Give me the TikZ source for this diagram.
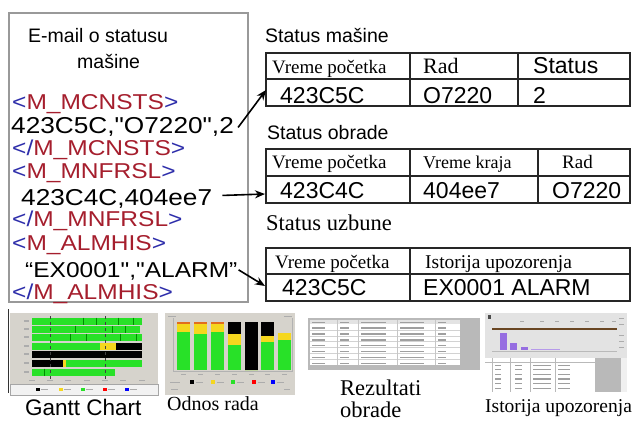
\documentclass[tikz,border=0pt]{standalone}
\usepackage{fontspec}
\setmainfont{Liberation Sans}
\newfontfamily\tmsfont{Liberation Serif}
\newfontfamily\widesans[FakeStretch=1.14]{Liberation Sans}
\usetikzlibrary{arrows.meta, calc}

\definecolor{tagblue}{RGB}{45,45,170}
\definecolor{tagred}{RGB}{165,30,45}
\definecolor{bargreen}{RGB}{40,225,40}
\definecolor{baryellow}{RGB}{245,215,30}
\definecolor{barorange}{RGB}{225,110,30}
\definecolor{barpurple}{RGB}{150,110,225}
\definecolor{panelgray}{RGB}{214,211,204}

\newcommand{\tg}[1]{\textcolor{tagblue}{<}\textcolor{tagred}{#1}\textcolor{tagblue}{>}}
\newcommand{\etg}[1]{\textcolor{tagblue}{</}\textcolor{tagred}{#1}\textcolor{tagblue}{>}}
\newcommand{\dq}{\symbol{34}}

\tikzset{
  txt/.style={anchor=base west, inner sep=0pt},
  tagline/.style={txt, font=\widesans\fontsize{21.5}{23}\selectfont},
  valline/.style={txt, font=\widesans\fontsize{23}{25}\selectfont},
  ttl/.style={txt, font=\fontsize{19.5}{21}\selectfont},
  hdr/.style={txt, font=\tmsfont\fontsize{19}{21}\selectfont},
  val/.style={txt, font=\fontsize{23}{25}\selectfont},
  tbl/.style={draw=black!85, line width=1.2pt},
  arr/.style={-{Stealth[length=10pt,width=8pt]}, line width=1.6pt},
  tiny/.style={fill=gray!65},
}

\begin{document}
\begin{tikzpicture}[x=1pt, y=-1pt]
    \useasboundingbox (0,0) rectangle (640,421);

    % e-mail box
    \draw[gray!80, line width=1.5pt] (9,13) rectangle (248,302);
    \node[ttl] (mail1) at (28,42) {E-mail o statusu};
    \node[ttl] (mail2) at (77,68) {mašine};
    \node[tagline] (t1) at (12,109) {\tg{M\_MCNSTS}};
    \node[valline] (v1) at (11,133) {423C5C,\dq O7220\dq,2};
    \node[tagline] (t2) at (12,155) {\etg{M\_MCNSTS}};
    \node[tagline] (t3) at (12,178) {\tg{M\_MNFRSL}};
    \node[valline] (v2) at (21,205) {423C4C,404ee7};
    \node[tagline] (t4) at (12,226) {\etg{M\_MNFRSL}};
    \node[tagline] (t5) at (12,250) {\tg{M\_ALMHIS}};
    \node[valline, font=\widesans\fontsize{21.5}{23}\selectfont] (v3) at (25,277) {“EX0001\dq,\dq ALARM”};
    \node[tagline] (t6) at (12,299) {\etg{M\_ALMHIS}};

    % status masine
    \node[ttl] (smT) at (265,42) {Status mašine};
    \draw[tbl] (266,53) rectangle (630,106);
    \draw[tbl] (266,79) -- (630,79);
    \draw[tbl] (410,53) -- (410,106);
    \draw[tbl] (518,53) -- (518,106);
    \node[hdr] (sm11) at (272,73) {Vreme početka};
    \node[hdr, font=\tmsfont\fontsize{22}{24}\selectfont] (sm12) at (423,73) {Rad};
    \node[val] (sm13) at (533,73) {Status};
    \node[val] (sm21) at (280,103) {423C5C};
    \node[val] (sm22) at (423,103) {O7220};
    \node[val] (sm23) at (533,103) {2};
    \coordinate (smIn) at (266,90);

    % status obrade
    \node[ttl] (soT) at (267,139) {Status obrade};
    \draw[tbl] (266,149) rectangle (630,203);
    \draw[tbl] (266,176) -- (630,176);
    \draw[tbl] (410,149) -- (410,203);
    \draw[tbl] (538,149) -- (538,203);
    \node[hdr] (so11) at (272,168) {Vreme početka};
    \node[hdr, font=\tmsfont\fontsize{18}{20}\selectfont] (so12) at (423,168) {Vreme kraja};
    \node[hdr] (so13) at (562,168) {Rad};
    \node[val] (so21) at (280,198) {423C4C};
    \node[val] (so22) at (423,198) {404ee7};
    \node[val] (so23) at (552,198) {O7220};
    \coordinate (soIn) at (265,194);

    % status uzbune
    \node[txt, font=\tmsfont\fontsize{22.5}{24}\selectfont] (suT) at (266,230) {Status uzbune};
    \draw[tbl] (266,248) rectangle (630,301);
    \draw[tbl] (266,274) -- (630,274);
    \draw[tbl] (410,248) -- (410,301);
    \node[hdr] (su11) at (275,268) {Vreme početka};
    \node[hdr, font=\tmsfont\fontsize{19.5}{21}\selectfont] (su12) at (425,268) {Istorija upozorenja};
    \node[val] (su21) at (282,295) {423C5C};
    \node[val] (su22) at (423,295) {EX0001 ALARM};
    \coordinate (suIn) at (265,286);

    % arrows
    \draw[arr] ($(v1.east)+(4,1)$) -- (smIn);
    \draw[arr] ($(v2.east)+(10,-3)$) -- (soIn);
    \draw[arr] ($(v3.east)+(1,-1)$) -- (suIn);

    % gantt chart
    \draw[black!80, line width=0.8pt] (8,309) -- (8,393);
    \fill[panelgray] (10,313) rectangle (158,384);
    \draw[gray!70, fill=gray!10] (10,384) rectangle (158,395);
    \fill[bargreen] (32,317.5) rectangle (142,324.5);
    \fill[bargreen] (32,325.5) rectangle (140,332.5);
    \fill[bargreen] (32,333.5) rectangle (142,340.5);
    \fill[bargreen] (32,342.5) rectangle (100,349.5);
    \fill[baryellow] (100,342.5) rectangle (116,349.5);
    \fill[black] (116,342.5) rectangle (142,349.5);
    \fill[black] (32,350.5) rectangle (142,357.5);
    \fill[black] (32,359.5) rectangle (63,366.5);
    \fill[baryellow] (63,359.5) rectangle (66,366.5);
    \fill[bargreen] (66,359.5) rectangle (142,366.5);
    \fill[bargreen] (32,368.5) rectangle (115,375.5);
    \foreach \x/\y in {83/321, 96/321, 118/321, 133/321, 75/329, 112/329, 125/329, 70/337, 86/337, 120/337, 136/337, 44/372}
        \draw[green!55!black, line width=0.4pt] (\x,\y-3.5) -- (\x,\y+3.5);
    \draw[black!75, dashed, line width=0.7pt] (50,316) -- (50,380);
    \draw[black!75, dashed, line width=0.7pt] (105,316) -- (105,380);
    \foreach \y in {321,329,337,346,354,363,372}
        \fill[tiny] (24,\y-0.8) rectangle (29,\y+0.8);
    \foreach \x in {32,50,68,87,105,123,142}
        \fill[tiny] (\x-3,379.5) rectangle (\x+3,381);
    \foreach \x/\c in {38/black, 61/baryellow, 83/bargreen, 105/red, 127/blue} {
        \fill[\c] (\x-1.6,387.8) rectangle (\x+1.6,391.2);
        \fill[tiny] (\x+3,389) rectangle (\x+10,390.2);
    }

    % odnos rada
    \fill[panelgray] (165,313) rectangle (295,395);
    \draw[gray!60, line width=0.4pt] (173,318) -- (173,371) -- (292,371) -- (292,318);
    \foreach \c in {183,200,217}
        \fill[barorange] (\c-6.5,322) rectangle (\c+6.5,324);
    \foreach \c/\k/\w/\g in {183/324/324/332, 200/324/324/334, 217/324/324/332,
                             234/322/334/345, 251/322/370/370, 267/322/336/342, 284/333/333/340} {
        \fill[black] (\c-6.5,\k) rectangle (\c+6.5,\w);
        \fill[baryellow] (\c-6.5,\w) rectangle (\c+6.5,\g);
        \fill[bargreen] (\c-6.5,\g) rectangle (\c+6.5,370);
        \fill[tiny] (\c-2.5,373.5) rectangle (\c+2.5,374.8);
    }
    \fill[tiny] (168,316) rectangle (176,317.3);
    \fill[tiny] (284,316) rectangle (292,317.3);
    \foreach \x/\c in {192/black, 213/baryellow, 233/bargreen, 254/red, 273/blue} {
        \fill[\c] (\x-2,380) rectangle (\x+2,384);
        \fill[tiny] (\x+4,381.5) rectangle (\x+11,382.7);
    }
    \fill[tiny] (170,381.5) rectangle (180,382.7);
    \fill[tiny] (171,389) rectangle (178,390.2);
    \fill[tiny] (284,389) rectangle (290,390.2);

    % rezultati obrade
    \fill[gray!55] (308,318) rectangle (480,370);
    \fill[white] (310,320) rectangle (460,365);
    \fill[gray!22] (310,320) rectangle (460,324);
    \foreach \r in {1,...,6}
        \draw[gray!35, line width=0.4pt] (310,324+\r*5.86) -- (460,324+\r*5.86);
    \foreach \x in {337,358,397,435}
        \draw[gray!45, line width=0.4pt] (\x,320) -- (\x,365);
    \foreach \r in {0,...,7}
        \foreach \cx/\len in {312/13, 340/9, 361/25, 400/24, 438/8}
            \fill[gray!75] (\cx,321.5+\r*5.86) rectangle ++(\len,1.5);

    % istorija upozorenja
    \fill[gray!22] (485,313) rectangle (627,358);
    \draw[brown!55!black, line width=1.8pt] (492,329) -- (617,329);
    \fill[barpurple] (500,333) rectangle (507,350);
    \fill[barpurple] (510,343) rectangle (517,350);
    \fill[barpurple] (521,347) rectangle (528,350);
    \fill[barpurple!70] (531,348.8) rectangle (560,350.2);
    \draw[gray!55, line width=0.4pt] (492,351) -- (617,351);
    \foreach \y in {318,324,335,341,347}
        \fill[tiny] (619,\y) rectangle (624,\y+1.2);
    \foreach \x in {520,540,555,570,585,600,612}
        \fill[tiny] (\x,321) rectangle (\x+4,322.2);
    \fill[black!70] (488,315) rectangle (491,319);
    \fill[white] (485,358) rectangle (595,392);
    \fill[gray!55] (595,358) rectangle (621,392);
    \fill[gray!12] (621,358) rectangle (627,392);
    \draw[gray!55, line width=0.4pt] (485,362) -- (595,362);
    \foreach \x in {492,510,530,555}
        \draw[gray!55, line width=0.4pt] (\x,358) -- (\x,392);
    \foreach \r in {0,...,5}
        \foreach \cx/\len in {495/6, 515/7, 533/18, 558/12}
            \fill[gray!75] (\cx,364.5+\r*4.6) rectangle ++(\len,1.3);

    % captions
    \node[txt, font=\fontsize{22.5}{24}\selectfont] (gantt) at (25,415) {Gantt Chart};
    \node[txt, font=\tmsfont\fontsize{20}{22}\selectfont] (odnos) at (167,410) {Odnos rada};
    \node[txt, font=\tmsfont\fontsize{22.5}{24}\selectfont] (rez1) at (340,395) {Rezultati};
    \node[txt, font=\tmsfont\fontsize{22.5}{24}\selectfont] (rez2) at (340,417) {obrade};
    \node[txt, font=\tmsfont\fontsize{19.5}{21}\selectfont] (ist) at (485,412) {Istorija upozorenja};
\end{tikzpicture}
\end{document}
